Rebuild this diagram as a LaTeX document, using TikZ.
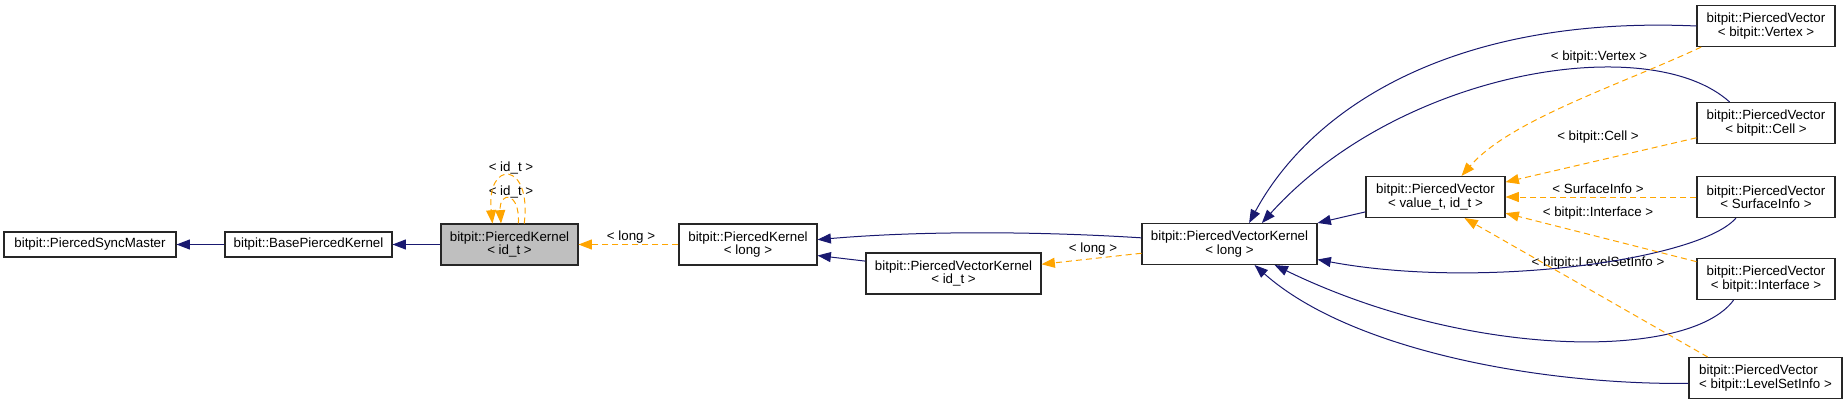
\documentclass[tikz,border=0pt]{standalone}
\usepackage{fontspec}
\setmainfont{Liberation Sans}
\usetikzlibrary{arrows.meta,positioning}
\definecolor{inhblue}{HTML}{191970}
\definecolor{tmplorange}{HTML}{FFA500}
\definecolor{selgray}{HTML}{BFBFBF}

\begin{document}
\begin{tikzpicture}[x=0.75pt,y=-0.75pt,
    cls/.style={draw=black!85, line width=0.8pt, fill=white, align=center,
        font=\fontsize{10}{10}\selectfont, inner sep=0pt, minimum height=30.75pt},
    onecls/.style={cls, minimum height=18.75pt},
    inh/.style={draw=inhblue, line width=0.75pt, -{Triangle[length=10pt,width=7.5pt]}},
    tmpl/.style={draw=tmplorange, line width=0.75pt, dash pattern=on 4.5pt off 3pt,
        -{Triangle[length=10pt,width=7.5pt]}},
    lbl/.style={font=\fontsize{10}{10}\selectfont, inner sep=0pt}]
\useasboundingbox (0,0) rectangle (1848,404);

\node[onecls, minimum width=129pt] (sync) at (90,244.5) {bitpit::PiercedSyncMaster};
\node[onecls, minimum width=125.25pt] (base) at (308.5,244.5) {bitpit::BasePiercedKernel};
\node[cls, fill=selgray, minimum width=102.75pt] (pkid) at (509.5,244.5) {bitpit::PiercedKernel\\< id\_t >};
\node[cls, minimum width=103.5pt] (pklong) at (748,244.5) {bitpit::PiercedKernel\\< long >};
\node[cls, minimum width=131.25pt] (pvkid) at (953.5,273.5) {bitpit::PiercedVectorKernel\\< id\_t >};
\node[cls, minimum width=131.25pt] (pvklong) at (1229.5,244) {bitpit::PiercedVectorKernel\\< long >};
\node[cls, minimum width=104.25pt] (pvvt) at (1435.5,197) {bitpit::PiercedVector\\< value\_t, id\_t >};

\node[cls, minimum width=103.5pt] (pvvertex) at (1766,26) {bitpit::PiercedVector\\< bitpit::Vertex >};
\node[cls, minimum width=103.5pt] (pvcell) at (1766,123) {bitpit::PiercedVector\\< bitpit::Cell >};
\node[cls, minimum width=103.5pt] (pvsurf) at (1766,197) {bitpit::PiercedVector\\< SurfaceInfo >};
\node[cls, minimum width=103.5pt] (pviface) at (1766,279) {bitpit::PiercedVector\\< bitpit::Interface >};
\node[cls, minimum width=114.75pt, align=left] (pvlsi) at (1765.5,378) {bitpit::PiercedVector\\< bitpit::LevelSetInfo >};

\node[lbl] (lidtop) at (511,168) {< id\_t >};
\node[lbl] (lidbot) at (511,192) {< id\_t >};
\node[lbl] (llonga) at (631,237) {< long >};
\node[lbl] (llongb) at (1093,249) {< long >};
\node[lbl] (lvertex) at (1599,57) {< bitpit::Vertex >};
\node[lbl] (lcell) at (1598,137) {< bitpit::Cell >};
\node[lbl] (lsurf) at (1598,189) {< SurfaceInfo >};
\node[lbl] (liface) at (1598,213) {< bitpit::Interface >};
\node[lbl] (llsi) at (1598,263) {< bitpit::LevelSetInfo >};

\draw[inh] (base) -- (sync);
\draw[inh] (pkid) -- (base);
\draw[tmpl] (pklong) -- (pkid);
\draw[tmpl] (pkid.55) .. controls (532,160) and (486,160) .. (pkid.129);
\draw[tmpl] (pkid.67) .. controls (520,191) and (499,191) .. (pkid.112);

\draw[inh] (pvklong.176) .. controls (1050,232) and (930,230) .. (pklong.4);
\draw[inh] (pvkid.172) -- (pklong.-9);
\draw[tmpl] (pvklong.-174) -- (pvkid.6);

\draw[inh] (pvvertex.west) .. controls (1450,15) and (1310,110) .. (pvklong.47);
\draw[inh] (pvcell.150) .. controls (1650,30) and (1400,70) .. (pvklong.33);
\draw[inh] (pvvt.192) -- (pvklong.north east);
\draw[inh] (pvsurf.215) .. controls (1700,260) and (1480,290) .. (pvklong.-10);
\draw[inh] (pviface.213) .. controls (1690,360) and (1470,360) .. (pvklong.-25);
\draw[inh] (pvlsi.184) .. controls (1540,385) and (1350,350) .. (pvklong.-40);

\draw[tmpl] (pvvertex.198) .. controls (1620,85) and (1510,120) .. (pvvt.39);
\draw[tmpl] (pvcell.192) -- (pvvt.12);
\draw[tmpl] (pvsurf) -- (pvvt);
\draw[tmpl] (pviface.166) -- (pvvt.-13);
\draw[tmpl] (pvlsi.160) -- (pvvt.-36);
\end{tikzpicture}
\end{document}
